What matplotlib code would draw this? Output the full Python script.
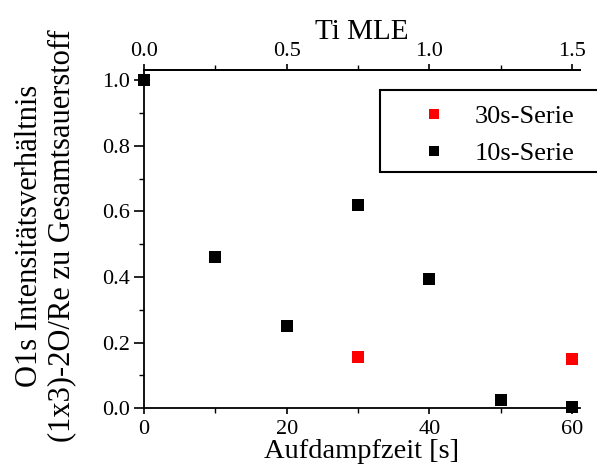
import matplotlib
matplotlib.use("Agg")
import matplotlib.pyplot as plt
from matplotlib.ticker import MultipleLocator
from matplotlib.patches import Rectangle

plt.rcParams['font.family'] = ['Liberation Serif', 'DejaVu Serif']

x_10s = [0, 10, 20, 30, 40, 50, 60]
y_10s = [1.0, 0.462, 0.251, 0.619, 0.393, 0.025, 0.005]
x_30s = [30, 60]
y_30s = [0.155, 0.150]

xlabel = "Aufdampfzeit [s]"
toplabel = "Ti MLE"
ylabel = "O1s Intensitätsverhältnis\n(1x3)-2O/Re zu Gesamtsauerstoff"
legend_labels = ["30s-Serie", "10s-Serie"]

fig = plt.figure(figsize=(5.97, 4.76), dpi=100)
ax = fig.add_axes([144/597, 1-408.3/476, (580-144)/597, (408.3-70)/476])

ax.plot(x_30s, y_30s, 's', color='#ff0000', markersize=8.3, markeredgewidth=0,
        label=legend_labels[0], clip_on=False, zorder=3)
ax.plot(x_10s, y_10s, 's', color='black', markersize=8.3, markeredgewidth=0,
        label=legend_labels[1], clip_on=False, zorder=3)

ax.set_xlim(0, 61.1)
ax.set_ylim(0, 1.031)
ax.spines['right'].set_visible(False)
for s in ['left', 'bottom', 'top']:
    ax.spines[s].set_linewidth(1.3)

ax.xaxis.set_major_locator(MultipleLocator(20))
ax.xaxis.set_minor_locator(MultipleLocator(10))
ax.yaxis.set_major_locator(MultipleLocator(0.2))
ax.yaxis.set_minor_locator(MultipleLocator(0.1))
ax.yaxis.set_major_formatter(plt.FuncFormatter(lambda v, p: f"{v:.1f}"))
ax.tick_params(which='major', direction='out', width=1.2, labelsize=16)
ax.tick_params(which='minor', direction='out', length=3.5, width=1.0)
ax.tick_params(axis='x', which='major', length=4.5, pad=4)
ax.tick_params(axis='y', which='major', length=7, pad=3)
ax.tick_params(right=False, which='both')

ax.set_xlabel(xlabel, fontsize=20.5, labelpad=0)

sec = ax.secondary_xaxis('top', functions=(lambda t: t / 40.0, lambda m: m * 40.0))
sec.xaxis.set_major_locator(MultipleLocator(0.5))
sec.xaxis.set_minor_locator(MultipleLocator(0.25))
sec.xaxis.set_major_formatter(plt.FuncFormatter(lambda v, p: f"{v:.1f}"))
sec.tick_params(which='major', direction='out', length=4.5, width=1.2, labelsize=16, pad=2)
sec.tick_params(which='minor', direction='out', length=3.5, width=1.0)
sec.spines['top'].set_linewidth(1.3)
sec.set_xlabel(toplabel, fontsize=21, labelpad=2)

fig.text(46/597, 1-236/476, ylabel, rotation=90, ha='center', va='center',
         multialignment='center', fontsize=22, linespacing=1.15)

leg = ax.legend(loc='upper left', bbox_to_anchor=(380/597, 1-90/476),
                bbox_transform=fig.transFigure, borderaxespad=0,
                frameon=False,
                fontsize=19, handletextpad=0.05, borderpad=0.55, labelspacing=0.52,
                handlelength=3.0, markerscale=0.95)
leg.set_zorder(6)

frame = Rectangle((380/597, 1-172/476), (620-380)/597, (172-90)/476,
                  transform=fig.transFigure, facecolor='white', edgecolor='black',
                  linewidth=1.5, clip_on=False, zorder=5)
ax.add_artist(frame)

fig.savefig("out.png", dpi=100)
